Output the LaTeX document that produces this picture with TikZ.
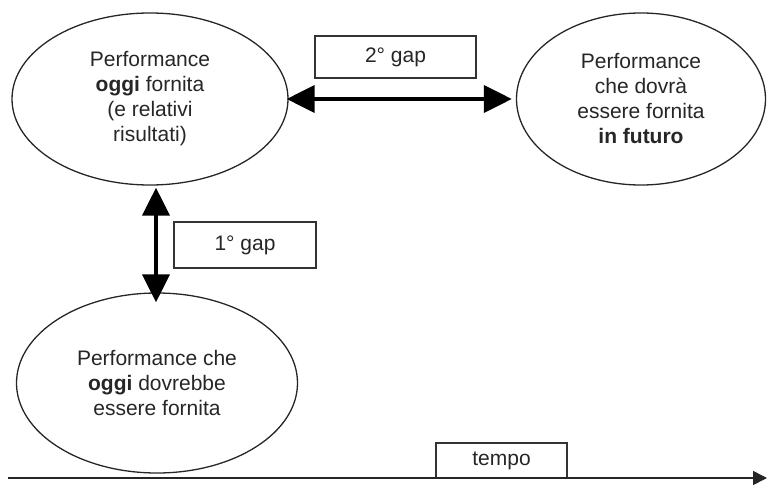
\documentclass[tikz,border=0pt]{standalone}
\usepackage{fontspec}
\setmainfont{Liberation Sans}
\usetikzlibrary{shapes.geometric,arrows.meta}
\tikzset{
  oval/.style={draw=black!85, line width=1.3pt, ellipse, inner sep=0pt, align=center,
    font=\fontsize{21}{25}\selectfont, text=black!85},
  gapbox/.style={draw=black!80, line width=1.5pt, rectangle, inner sep=0pt, align=center,
    font=\fontsize{21}{25}\selectfont, text=black!85},
  bigarrow/.style={line width=4pt, draw=black, {Triangle[length=28pt,width=27pt]}-{Triangle[length=28pt,width=27pt]}},
  axisarrow/.style={line width=1.6pt, draw=black!85, -{Triangle[length=14pt,width=14pt]}}
}
\begin{document}
\begin{tikzpicture}[x=1pt,y=-1pt]
\useasboundingbox (0,0) rectangle (767,484);
\node[oval, minimum width=276pt, minimum height=172pt] (e1) at (150,99)
  {Performance\\\textbf{oggi} fornita\\(e relativi\\risultati)};
\node[oval, minimum width=249pt, minimum height=172pt] (e2) at (641,99)
  {Performance\\che dovrà\\essere fornita\\\textbf{in futuro}};
\node[oval, minimum width=281pt, minimum height=180pt] (e3) at (157,383)
  {Performance che\\\textbf{oggi} dovrebbe\\essere fornita};
\node[gapbox, minimum width=161pt, minimum height=42pt] (g2) at (395.5,57) {2° gap};
\node[gapbox, minimum width=142pt, minimum height=46pt] (g1) at (245,245) {1° gap};
\node[gapbox, minimum width=131pt, minimum height=35pt] (t) at (501.5,460.5) {tempo};
\draw[bigarrow] ([xshift=-2pt]e1.east) -- ([xshift=-4pt]e2.west);
\draw[bigarrow] ([xshift=6pt,yshift=-2pt]e1.south) -- ([xshift=-1pt,yshift=-10pt]e3.north);
\coordinate (a0) at (8,478);
\coordinate (a1) at (767,478);
\draw[axisarrow] (a0) -- (a1);
\end{tikzpicture}
\end{document}
